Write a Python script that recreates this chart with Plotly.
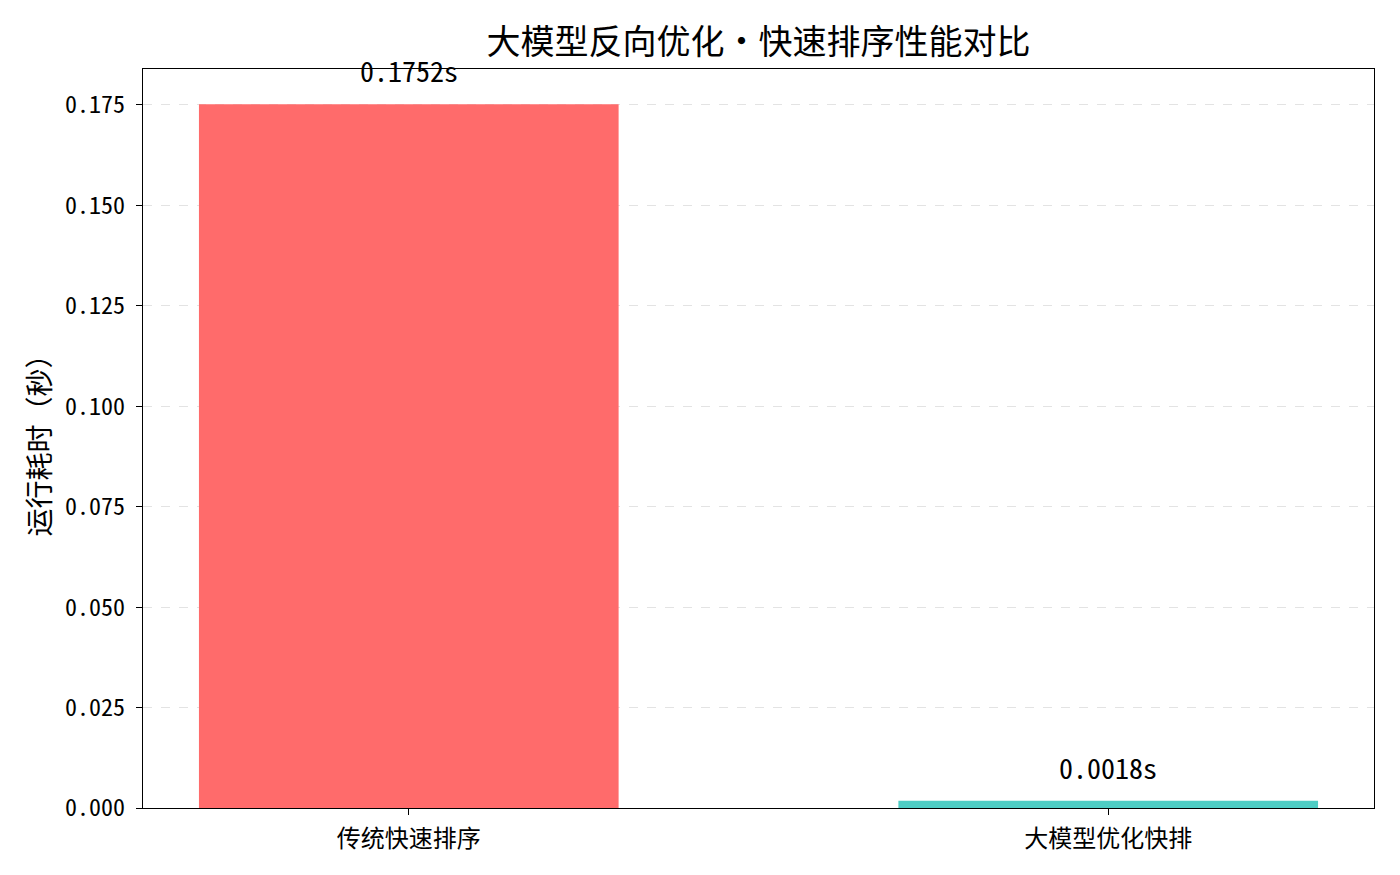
import plotly.graph_objects as go

# data
methods = ["传统快速排序", "大模型优化快排"]
run_times = [0.1752, 0.0018]
bar_colors = ["#FF6B6B", "#4ECDC4"]
y_ticks = [0.0, 0.025, 0.05, 0.075, 0.1, 0.125, 0.15, 0.175]

font_name = "Noto Sans CJK SC, SimHei, sans-serif"
mono_name = "Noto Sans Mono CJK SC, Noto Sans CJK SC, monospace"

fig = go.Figure()

fig.add_trace(go.Bar(
    x=methods,
    y=run_times,
    width=0.6,
    marker=dict(color=bar_colors, line=dict(width=0)),
    showlegend=False,
))

# value labels sitting just above each bar (like ax.text(..., h + 0.005))
for m, t in zip(methods, run_times):
    fig.add_annotation(
        x=m, y=t + 0.005, xref="x", yref="y",
        text=f"{t:.4f}s", showarrow=False, yanchor="bottom", yshift=-8,
        font=dict(size=28, color="black", family=mono_name),
    )

# page body has an 8px margin, so keep the figure a bit smaller than the window
fig.update_layout(
    width=1392, height=867,
    paper_bgcolor="white", plot_bgcolor="white",
    margin=dict(l=135, r=26, t=61, b=67),
    font=dict(family=font_name, color="black"),
    title=dict(text="大模型反向优化・快速排序性能对比", x=0.5, xref="paper", xanchor="center",
               y=0.961, yanchor="middle", font=dict(size=34, color="black")),
    bargap=0.4,
)

fig.update_xaxes(
    type="category",
    range=[-0.38, 1.38],
    showline=True, linecolor="black", linewidth=1.3, mirror=True,
    ticks="outside", ticklen=6, tickwidth=1.3, tickcolor="black",
    showgrid=False, zeroline=False,
    tickfont=dict(size=24),
    ticklabelstandoff=3,
)

fig.update_yaxes(
    range=[0, 0.18396],
    tickvals=y_ticks,
    ticktext=[f"{v:.3f}" for v in y_ticks],
    showline=True, linecolor="black", linewidth=1.3, mirror=True,
    ticks="outside", ticklen=6, tickwidth=1.3, tickcolor="black",
    showgrid=True, gridcolor="rgba(176,176,176,0.35)", griddash="dash", gridwidth=1,
    zeroline=False,
    tickfont=dict(size=24, family=mono_name),
    ticklabelstandoff=6,
    title=dict(text="运行耗时（秒）", font=dict(size=28), standoff=6),
)

fig.write_html("out.html")
